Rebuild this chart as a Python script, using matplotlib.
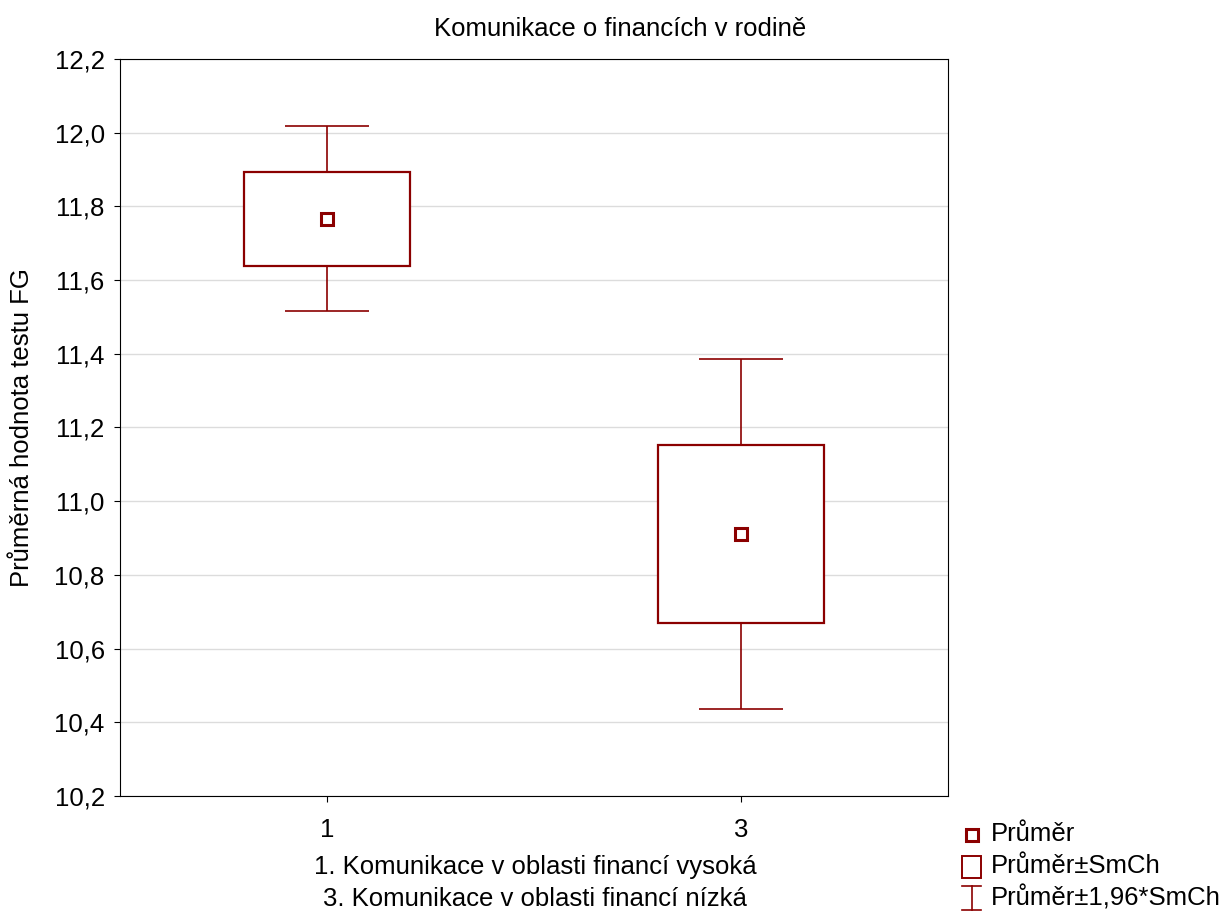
import numpy as np
import matplotlib
matplotlib.use('Agg')
import matplotlib.pyplot as plt
from matplotlib.patches import Rectangle
from matplotlib.ticker import FuncFormatter, MultipleLocator

plt.rcParams['font.family'] = ['Liberation Sans', 'DejaVu Sans']

# Group codes, descriptions, means and standard errors (SmCh)
groups = ['1', '3']
group_names = ['1. Komunikace v oblasti financí vysoká',
               '3. Komunikace v oblasti financí nízká']
means = np.array([11.766, 10.911])
se = np.array([0.128, 0.242])

color = '#8b0000'
fs = 18.5

fig = plt.figure(figsize=(12.27, 9.13), dpi=100)
ax = fig.add_axes([120 / 1227, 1 - 796 / 913, 828 / 1227, 737 / 913])

x = np.arange(len(groups))

# whiskers: mean +/- 1.96*SE
ax.errorbar(x, means, yerr=1.96 * se, fmt='none', ecolor=color,
            elinewidth=1.2, capsize=30, capthick=1.2, zorder=2)

# boxes: mean +/- SE
box_w = 0.4
for xi, m, s in zip(x, means, se):
    ax.add_patch(Rectangle((xi - box_w / 2, m - s), box_w, 2 * s,
                           facecolor='white', edgecolor=color,
                           linewidth=1.6, zorder=3))

# mean markers
ax.plot(x, means, 's', markersize=8, markerfacecolor='white',
        markeredgecolor=color, markeredgewidth=2.2, zorder=4)

ax.set_xlim(-0.5, 1.5)
ax.set_ylim(10.2, 12.2)
ax.yaxis.set_major_locator(MultipleLocator(0.2))
ax.yaxis.set_major_formatter(FuncFormatter(lambda v, p: f'{v:.1f}'.replace('.', ',')))
ax.set_xticks(x)
ax.set_xticklabels(groups)
ax.tick_params(labelsize=fs, direction='out', length=4, width=0.8)
ax.tick_params(axis='y', pad=7)
ax.tick_params(axis='x', pad=12)
ax.grid(axis='y', color='#dcdcdc', linewidth=1)
ax.set_axisbelow(True)
for sp in ax.spines.values():
    sp.set_linewidth(0.8)

ax.set_ylabel('Průměrná hodnota testu FG', fontsize=fs)
ax.yaxis.set_label_coords((34 - 120) / 828, 0.5)
fig.text(620 / 1227, 1 - 29 / 913, 'Komunikace o financích v rodině',
         ha='center', va='center', fontsize=fs)

# group descriptions under the axis
for i, name in enumerate(group_names):
    fig.text(535 / 1227, 1 - (867 + 32 * i) / 913, name,
             ha='center', va='center', fontsize=fs)

# legend
lax = fig.add_axes([0, 0, 1, 1], facecolor='none')
lax.set_xlim(0, 1227)
lax.set_ylim(913, 0)
lax.axis('off')
lax.plot([971.5], [835.5], 's', markersize=8, markerfacecolor='white',
         markeredgecolor=color, markeredgewidth=2.2)
lax.add_patch(Rectangle((962, 856), 19, 22, facecolor='white',
                        edgecolor=color, linewidth=1.4))
lax.plot([962, 981], [886, 886], color=color, lw=1.2)
lax.plot([962, 981], [910, 910], color=color, lw=1.2)
lax.plot([971.5, 971.5], [886, 910], color=color, lw=1.2)
for yy, lab in zip([834, 866, 898], ['Průměr', 'Průměr±SmCh', 'Průměr±1,96*SmCh']):
    lax.text(991, yy, lab, ha='left', va='center', fontsize=fs)

fig.savefig('out.png', dpi=100)
